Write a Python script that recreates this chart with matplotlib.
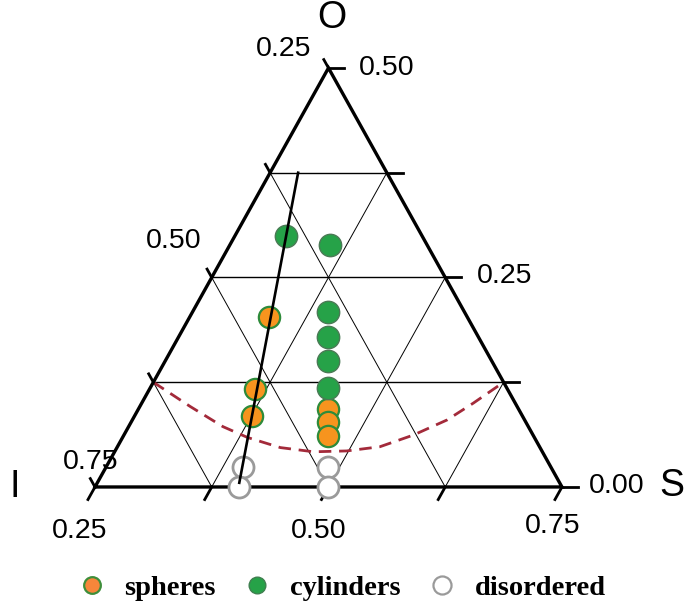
import numpy as np
import matplotlib
matplotlib.use('Agg')
import matplotlib.pyplot as plt
from matplotlib.lines import Line2D

# ternary components: S (bottom axis), O (right axis), I = 1 - S - O (left axis)
sphere_S = [0.335, 0.363, 0.376, 0.453, 0.461, 0.469]
sphere_O = [0.203, 0.117, 0.085, 0.093, 0.078, 0.061]
cyl_S = [0.304, 0.357, 0.395, 0.410, 0.425, 0.441]
cyl_O = [0.300, 0.289, 0.209, 0.179, 0.150, 0.118]
dis_S = [0.396, 0.404, 0.488, 0.500]
dis_O = [0.024, 0.000, 0.024, 0.000]
fit_S = [0.280, 0.402]
fit_O = [0.375, 0.005]
bound_S = [0.250, 0.304, 0.351, 0.384, 0.425, 0.463, 0.498, 0.531, 0.560, 0.587, 0.605, 0.625]
bound_O = [0.125, 0.096, 0.072, 0.059, 0.047, 0.042, 0.043, 0.048, 0.062, 0.080, 0.100, 0.125]

grid_steps = [0.125, 0.25, 0.375]
left_labels = ["0.25", "0.50", "0.75"]     # I values
bottom_labels = ["0.25", "0.50", "0.75"]   # S values
right_labels = ["0.50", "0.25", "0.00"]    # O values
legend_names = ["spheres", "cylinders", "disordered"]


def tern(S, O):
    S = np.asarray(S, float)
    O = np.asarray(O, float)
    return S + O / 2.0, O


fig = plt.figure(figsize=(6.86, 6.10), dpi=100)
ax = fig.add_axes([0, 0, 1, 1])
ax.set_xlim(0.1483, 0.8828)
ax.set_ylim(-0.1468, 0.5811)
ax.axis('off')

vx, vy = tern([0.25, 0.75, 0.25, 0.25], [0.0, 0.0, 0.5, 0.0])

# grid: horizontal lines (constant O)
for g in grid_steps:
    xs, ys = tern([0.25, 0.75 - g], [g, g])
    ax.plot(xs, ys, color='black', lw=1.0, zorder=1)
# constant S lines
for g in grid_steps:
    s = 0.25 + g
    xs, ys = tern([s, s], [0.0, 0.75 - s])
    ax.plot(xs, ys, color='black', lw=0.7, zorder=1)
# constant I lines
for g in grid_steps:
    i = 0.25 + g
    xs, ys = tern([1 - i, 0.25], [0.0, 0.75 - i])
    ax.plot(xs, ys, color='black', lw=0.7, zorder=1)

# triangle edges
ax.plot(vx, vy, color='black', lw=2.4, zorder=3, solid_joinstyle='miter')

# ticks
pos = [0.0, 0.125, 0.25, 0.375, 0.5]
kb = 0.030
kl = 0.020
kr = 0.017
for p in pos:
    x0, y0 = tern(0.25 + p, 0.0)
    ax.plot([x0, x0 - 0.25 * kb], [y0, y0 - 0.5 * kb], color='black', lw=2.0, zorder=3)
    x0, y0 = tern(0.25, p)
    ax.plot([x0, x0 - 0.25 * kl], [y0, y0 + 0.5 * kl], color='black', lw=2.0, zorder=3)
    x0, y0 = tern(0.75 - p, p)
    ax.plot([x0, x0 + kr], [y0, y0], color='black', lw=2.0, zorder=3)

# dashed boundary
bx, by = tern(bound_S, bound_O)
ax.plot(bx, by, color='#A32A3A', lw=2.0, ls=(0, (4.5, 2.8)), zorder=2)

# points
sx, sy = tern(sphere_S, sphere_O)
ax.scatter(sx, sy, s=235, facecolor='#F7941E', edgecolor='#2E8B3A', linewidth=1.6, zorder=4)
cx, cy = tern(cyl_S, cyl_O)
ax.scatter(cx, cy, s=260, facecolor='#26A248', edgecolor='#4A7A55', linewidth=1.0, zorder=4)
dx, dy = tern(dis_S, dis_O)
ax.scatter(dx, dy, s=230, facecolor='white', edgecolor='#9A9A9A', linewidth=2.0, zorder=5)

# fit line
fx, fy = tern(fit_S, fit_O)
ax.plot(fx, fy, color='black', lw=1.9, zorder=6)

# tick labels
fs = 20.5
lab_font = dict(family=['Liberation Sans', 'DejaVu Sans'], fontsize=fs, ha='center', va='center')
left_pts = [tern(0.25, 0.5), tern(0.25, 0.25), tern(0.25, 0.0)]
left_off = [(-45, 19), (-38, 36), (-4, 25)]
for lab, pt, off in zip(left_labels, left_pts, left_off):
    ax.annotate(lab, xy=pt, xytext=off, textcoords='offset pixels', **lab_font)
bottom_pts = [tern(0.25, 0.0), tern(0.5, 0.0), tern(0.75, 0.0)]
bottom_off = [(-15, -44), (-10, -44), (-9, -39)]
for lab, pt, off in zip(bottom_labels, bottom_pts, bottom_off):
    ax.annotate(lab, xy=pt, xytext=off, textcoords='offset pixels', **lab_font)
right_pts = [tern(0.25, 0.5), tern(0.5, 0.25), tern(0.75, 0.0)]
right_off = [(58, 0), (59, 1), (55, 1)]
for lab, pt, off in zip(right_labels, right_pts, right_off):
    ax.annotate(lab, xy=pt, xytext=off, textcoords='offset pixels', **lab_font)

# axis letters
big = dict(family=['Liberation Sans', 'DejaVu Sans'], fontsize=27, ha='center', va='center')
ax.annotate('O', xy=tern(0.25, 0.5), xytext=(3, 50), textcoords='offset pixels', **big)
ax.annotate('S', xy=tern(0.75, 0.0), xytext=(110, 1), textcoords='offset pixels', **big)
ax.annotate('I', xy=tern(0.25, 0.0), xytext=(-80, 0), textcoords='offset pixels', **big)

# legend
handles = [
    Line2D([], [], ls='none', marker='o', markersize=12, markerfacecolor='#F7863A',
           markeredgecolor='#3E8E3A', markeredgewidth=1.6),
    Line2D([], [], ls='none', marker='o', markersize=12, markerfacecolor='#26A248',
           markeredgecolor='#3F7F4F', markeredgewidth=1.0),
    Line2D([], [], ls='none', marker='o', markersize=13, markerfacecolor='white',
           markeredgecolor='#9A9A9A', markeredgewidth=1.6),
]
leg = fig.legend(handles, legend_names, loc='center', bbox_to_anchor=(0.5, 0.036),
                 ncol=3, frameon=False, handlelength=0.8, handletextpad=0.75,
                 columnspacing=1.05,
                 prop=dict(family=['Liberation Serif', 'DejaVu Serif'], weight='bold', size=20.5))

fig.savefig('out.png', dpi=100)
